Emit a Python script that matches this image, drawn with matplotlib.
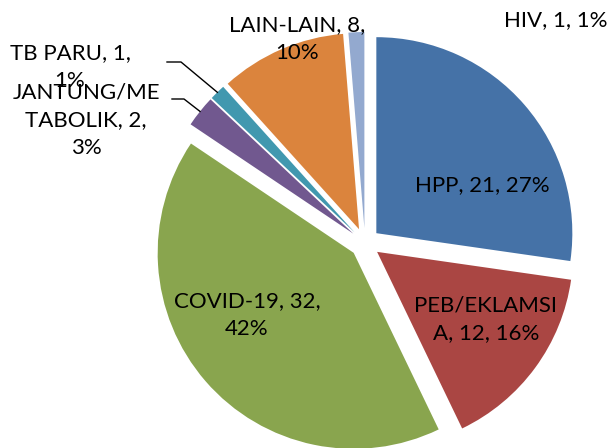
import math

import matplotlib

matplotlib.use("Agg")
import matplotlib.pyplot as plt

# data
categories = ["HPP", "PEB/EKLAMSIA", "COVID-19", "JANTUNG/METABOLIK", "TB PARU", "LAIN-LAIN", "HIV"]
counts = [21, 12, 32, 2, 1, 8, 1]
percents = [27, 16, 42, 3, 1, 10, 1]
label_texts = [
    "HPP, 21, 27%",
    "PEB/EKLAMSI\nA, 12, 16%",
    "COVID-19, 32,\n42%",
    "JANTUNG/ME\nTABOLIK, 2,\n3%",
    "TB PARU, 1,\n1%",
    "LAIN-LAIN, 8,\n10%",
    "HIV, 1, 1%",
]
colors = ["#4572A7", "#AA4643", "#89A54E", "#71588F", "#4198AF", "#DB843D", "#93A9CF"]

# layout (pixel coords, y measured from top)
W, H = 608, 448
center_px = (365, 243)
radius = 196
explode_px = 15
label_pos = [(482, 185), (486, 319), (247, 315), (86, 120), (70, 67), (297, 39), (556, 20)]
# leader lines: (end x, elbow x, y) for small slices
leaders = {3: (172, 184, 99), 4: (167, 181, 62)}

plt.rcParams["font.family"] = ["Lato", "DejaVu Sans"]

fig = plt.figure(figsize=(W / 100, H / 100), dpi=100)
ax = fig.add_axes([0, 0, 1, 1])

cx, cy = center_px[0], H - center_px[1]
wedges, _ = ax.pie(
    counts,
    colors=colors,
    startangle=90,
    counterclock=False,
    explode=[explode_px] * len(counts),
    radius=radius,
    center=(cx, cy),
    wedgeprops=dict(linewidth=0),
)

for i, (txt, (lx, ly)) in enumerate(zip(label_texts, label_pos)):
    ax.text(lx, H - ly, txt, ha="center", va="center", fontsize=16, color="black",
            linespacing=1.5)

for i, (x_end, x_elbow, y) in leaders.items():
    w = wedges[i]
    mid = math.radians((w.theta1 + w.theta2) / 2)
    tip_x = cx + (radius + explode_px) * math.cos(mid)
    tip_y = cy + (radius + explode_px) * math.sin(mid)
    ax.plot([x_end, x_elbow, tip_x], [H - y, H - y, tip_y], color="black", linewidth=1)

ax.set_xlim(0, W)
ax.set_ylim(0, H)
ax.set_aspect("equal")
ax.axis("off")

fig.savefig("out.png", dpi=100)
